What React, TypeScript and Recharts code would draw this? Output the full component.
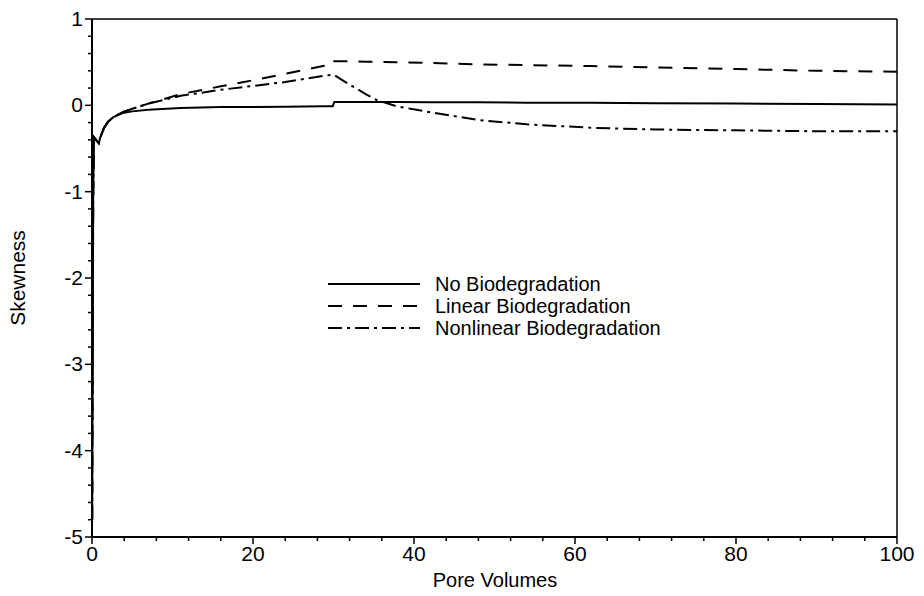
import React from "react";
import { LineChart, Line, XAxis, YAxis, ReferenceLine, Legend } from "recharts";

// pore volumes sampled along the curves
const poreVolumes = [0.02, 0.08, 0.15, 0.25, 0.5, 0.85, 1, 1.5, 2, 2.6, 3.8, 5, 7, 11, 16, 20, 24, 28.7, 29.9, 30.1, 32, 34, 35.4, 37.8, 42, 48, 54, 62, 70, 80, 90, 100];

const noBio = [-4.8, -3.0, -1.0, -0.37, -0.4, -0.44, -0.38, -0.26, -0.19, -0.14, -0.09, -0.07, -0.05, -0.03, -0.02, -0.02, -0.015, -0.01, -0.01, 0.04, 0.04, 0.04, 0.04, 0.04, 0.035, 0.035, 0.03, 0.03, 0.025, 0.02, 0.015, 0.01];
const linearBio = [-4.8, -3.0, -1.0, -0.37, -0.4, -0.44, -0.38, -0.26, -0.19, -0.14, -0.08, -0.04, 0.02, 0.13, 0.22, 0.29, 0.365, 0.455, 0.47, 0.51, 0.51, 0.505, 0.505, 0.5, 0.49, 0.475, 0.465, 0.455, 0.44, 0.42, 0.4, 0.39];
const nonlinearBio = [-4.8, -3.0, -1.0, -0.37, -0.4, -0.44, -0.38, -0.26, -0.19, -0.14, -0.08, -0.04, 0.02, 0.11, 0.18, 0.225, 0.27, 0.34, 0.355, 0.35, 0.24, 0.13, 0.06, -0.01, -0.08, -0.17, -0.22, -0.26, -0.28, -0.29, -0.3, -0.3];

const xMajor = [0, 20, 40, 60, 80, 100];
const xTicks = Array.from({ length: 26 }, (_, i) => i * 4);
const yMajor = [-5, -4, -3, -2, -1, 0, 1];
const yTicks = Array.from({ length: 31 }, (_, i) => Math.round((-5 + i * 0.2) * 10) / 10);

const series = [
  { key: "none", name: "No Biodegradation", dash: undefined },
  { key: "linear", name: "Linear Biodegradation", dash: "14 11" },
  { key: "nonlinear", name: "Nonlinear Biodegradation", dash: "14 5 3 5" },
];

const data = poreVolumes.map((pv, i) => ({
  pv,
  none: noBio[i],
  linear: linearBio[i],
  nonlinear: nonlinearBio[i],
}));

const FONT = "'Liberation Sans', Arial, sans-serif";

const isMajor = (v: number, list: number[]) => list.some((m) => Math.abs(m - v) < 1e-6);

const YTick = (props: any) => {
  const { x, y, payload } = props;
  const major = isMajor(payload.value, yMajor);
  return (
    <g>
      <line x1={x} x2={x - (major ? 7 : 4)} y1={y} y2={y} stroke="#000" strokeWidth={1.5} />
      {major && (
        <text x={x - 9} y={y} dy={7} textAnchor="end" fontSize={21} fontFamily={FONT} fill="#000">
          {payload.value}
        </text>
      )}
    </g>
  );
};

const XTick = (props: any) => {
  const { x, y, payload } = props;
  const major = isMajor(payload.value, xMajor);
  return (
    <g>
      <line x1={x} x2={x} y1={y} y2={y + (major ? 7 : 4)} stroke="#000" strokeWidth={1.5} />
      {major && (
        <text x={x} y={y + 24} textAnchor="middle" fontSize={21} fontFamily={FONT} fill="#000">
          {payload.value}
        </text>
      )}
    </g>
  );
};

const LegendBox = () => (
  <svg width={360} height={74}>
    {series.map((s, i) => (
      <g key={s.key}>
        <line x1={0} x2={92} y1={12 + i * 22} y2={12 + i * 22} stroke="#000" strokeWidth={2} strokeDasharray={s.dash} />
        <text x={107} y={19 + i * 22} fontSize={20} fontFamily={FONT} fill="#000">
          {s.name}
        </text>
      </g>
    ))}
  </svg>
);

export default function App() {
  return (
    <div style={{ position: "absolute", left: 0, top: 0, background: "#fff" }}>
      <LineChart width={924} height={596} data={data} margin={{ top: 19, right: 27, left: 32, bottom: 29 }}>
        <XAxis
          dataKey="pv"
          type="number"
          domain={[0, 100]}
          ticks={xTicks}
          interval={0}
          tickSize={0}
          tickMargin={0}
          tickLine={false}
          tick={<XTick />}
          height={30}
          stroke="#000"
          strokeWidth={2}
          label={{
            content: () => (
              <text x={495} y={587} textAnchor="middle" fontSize={20} fontFamily={FONT} fill="#000">
                Pore Volumes
              </text>
            ),
          }}
        />
        <YAxis
          type="number"
          domain={[-5, 1]}
          ticks={yTicks}
          interval={0}
          tickSize={0}
          tickMargin={0}
          tickLine={false}
          tick={<YTick />}
          width={60}
          stroke="#000"
          strokeWidth={2}
          label={{
            content: () => (
              <text x={25} y={278} transform="rotate(-90 25 278)" textAnchor="middle" fontSize={21} fontFamily={FONT} fill="#000">
                Skewness
              </text>
            ),
          }}
        />
        <ReferenceLine y={1} stroke="#000" strokeWidth={1.5} />
        <ReferenceLine x={100} stroke="#000" strokeWidth={1.5} />
        <Legend
          verticalAlign="middle"
          layout="horizontal"
          content={<LegendBox />}
          wrapperStyle={{ position: "absolute", left: 328, top: 272, width: 360 }}
        />
        {series.map((s) => (
          <Line
            key={s.key}
            dataKey={s.key}
            name={s.name}
            type="linear"
            stroke="#000"
            strokeWidth={2}
            strokeDasharray={s.dash}
            dot={false}
            isAnimationActive={false}
          />
        ))}
      </LineChart>
    </div>
  );
}
